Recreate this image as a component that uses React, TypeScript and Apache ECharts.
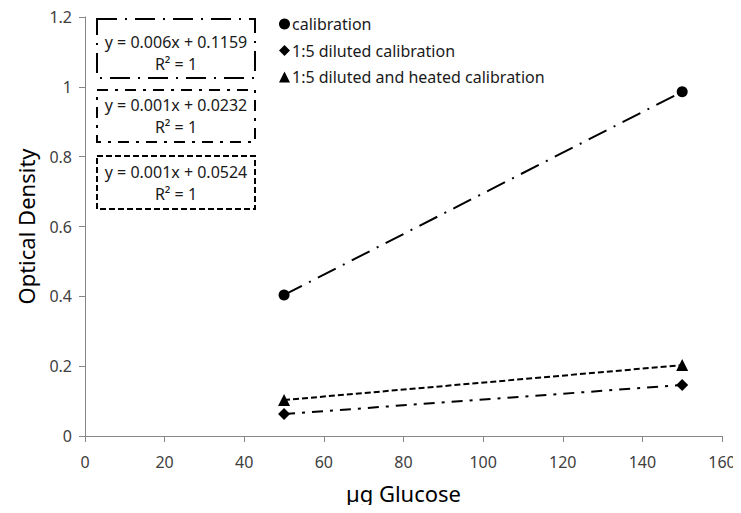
import React, { useEffect, useRef } from "react";
import * as echarts from "echarts";

// Glucose amounts (µg) and measured optical density for each calibration run
const glucose = [50, 150];
const calibration = [0.404, 0.986];
const diluted = [0.063, 0.146];
const heated = [0.103, 0.203];

const seriesNames = [
  "calibration",
  "1:5 diluted calibration",
  "1:5 diluted and heated calibration",
];

const trendEquations = [
  ["y = 0.006x + 0.1159", "R² = 1"],
  ["y = 0.001x + 0.0232", "R² = 1"],
  ["y = 0.001x + 0.0524", "R² = 1"],
];

const xTicks = { min: 0, max: 160, interval: 20 };
const yTicks = { min: 0, max: 1.2, interval: 0.2 };

const FONT = "'Noto Sans', sans-serif";
const longDashDot = [20, 8, 2, 8];
const dashDot = [11, 7, 3, 7];
const shortDash = [6, 3];

function pairs(ys: number[]) {
  return glucose.map((x, i) => [x, ys[i]]);
}

function eqBox(top: number, height: number, dash: number[], lines: string[], shift: number) {
  const mid = height / 2 + shift;
  const text = (s: string, y: number) => ({
    type: "text",
    x: 79,
    y,
    style: {
      text: s,
      font: `16px ${FONT}`,
      fill: "#1a1a1a",
      textAlign: "center",
      textVerticalAlign: "middle",
    },
  });
  return {
    type: "group",
    left: 96,
    top,
    children: [
      {
        type: "rect",
        shape: { x: 0, y: 0, width: 158, height },
        style: { fill: "#fff", stroke: "#000", lineWidth: 2, lineDash: dash },
      },
      text(lines[0], mid - 11),
      text(lines[1], mid + 11),
    ],
  };
}

export default function App() {
  const ref = useRef<HTMLDivElement>(null);

  useEffect(() => {
    if (!ref.current) return;
    const chart = echarts.init(ref.current, undefined, { renderer: "svg" });
    const axisLine = { show: true, lineStyle: { color: "#868686", width: 1 } };
    const lineSeries = (name: string, ys: number[], symbol: string, size: number, dash: number[]) => ({
      name,
      type: "line",
      data: pairs(ys),
      symbol,
      symbolSize: size,
      itemStyle: { color: "#000" },
      lineStyle: { color: "#000", width: 2, type: dash },
      z: 3,
    });
    chart.setOption({
      animation: false,
      backgroundColor: "#fff",
      grid: { left: 85, right: 19, top: 17, bottom: 77, containLabel: false },
      xAxis: {
        type: "value",
        ...xTicks,
        name: "µg Glucose",
        nameLocation: "middle",
        nameGap: 46,
        nameTextStyle: { fontFamily: FONT, fontSize: 22, color: "#000" },
        axisLine,
        axisTick: { show: true, inside: false, length: 6, lineStyle: { color: "#868686" } },
        axisLabel: { fontFamily: FONT, fontSize: 16, color: "#404040", margin: 18 },
        splitLine: { show: false },
      },
      yAxis: {
        type: "value",
        ...yTicks,
        name: "Optical Density",
        nameLocation: "middle",
        nameGap: 48,
        nameTextStyle: { fontFamily: FONT, fontSize: 22, color: "#000" },
        axisLine,
        axisTick: { show: true, inside: false, length: 6, lineStyle: { color: "#868686" } },
        axisLabel: { fontFamily: FONT, fontSize: 16, color: "#404040", margin: 13 },
        splitLine: { show: false },
      },
      legend: {
        orient: "vertical",
        left: 274,
        top: 11,
        itemWidth: 11,
        itemHeight: 11,
        itemGap: 10.5,
        textStyle: { fontFamily: FONT, fontSize: 16, color: "#1a1a1a", padding: [0, 0, 0, -3] },
        data: [
          { name: seriesNames[0], icon: "circle" },
          { name: seriesNames[1], icon: "diamond" },
          { name: seriesNames[2], icon: "triangle" },
        ],
      },
      series: [
        lineSeries(seriesNames[0], calibration, "circle", 11, longDashDot),
        lineSeries(seriesNames[1], diluted, "diamond", 12, dashDot),
        lineSeries(seriesNames[2], heated, "triangle", 12, shortDash),
      ],
      graphic: [
        eqBox(18, 59, longDashDot, trendEquations[0], 4),
        eqBox(89, 52, dashDot, trendEquations[1], 0),
        eqBox(155, 53, shortDash, trendEquations[2], 0),
      ],
    });
    return () => chart.dispose();
  }, []);

  return <div ref={ref} style={{ width: 741, height: 513, margin: -8 }} />;
}
